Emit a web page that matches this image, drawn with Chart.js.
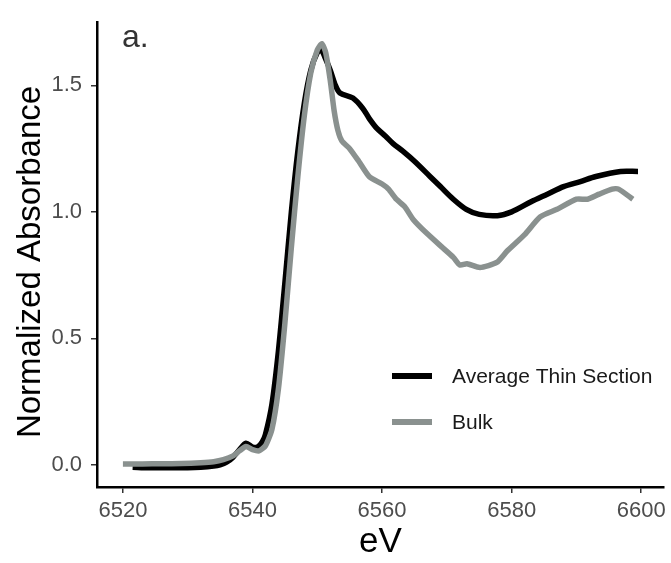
<!DOCTYPE html>
<html>
<head>
<meta charset="utf-8">
<script src="https://cdn.jsdelivr.net/npm/chart.js@4/dist/chart.umd.min.js"></script>
<style>
  html, body { margin: 0; padding: 0; background: #fff; }
  #wrap { width: 671px; height: 563px; position: relative; }
</style>
</head>
<body>
<div id="wrap"><canvas id="xanes"></canvas></div>
<script>
// series names
const seriesNames = ['Average Thin Section', 'Bulk'];

// Average Thin Section
const thinEnergy = [6521.5, 6524, 6527, 6530, 6532, 6534, 6535, 6536, 6537, 6538, 6539, 6540, 6540.8, 6541.5, 6542,
  6543, 6544, 6545, 6546, 6547, 6548, 6549, 6550, 6550.6, 6551.2, 6552, 6552.8, 6553.5, 6555.5, 6557, 6558,
  6559.2, 6560.5, 6561.7, 6563.2, 6565, 6567.4, 6569, 6571, 6573, 6575, 6577.8, 6580, 6583, 6585.5, 6588,
  6590.6, 6593, 6596.8, 6599.5];
const thinAbs = [-0.01, -0.012, -0.012, -0.012, -0.01, -0.005, 0.0, 0.01, 0.03, 0.06, 0.085, 0.07, 0.07, 0.09, 0.12,
  0.24, 0.45, 0.72, 1.0, 1.24, 1.43, 1.56, 1.63, 1.64, 1.61, 1.56, 1.5, 1.47, 1.45, 1.41, 1.37,
  1.33, 1.30, 1.27, 1.24, 1.2, 1.14, 1.10, 1.05, 1.01, 0.99, 0.985, 1.0, 1.04, 1.07, 1.10,
  1.12, 1.14, 1.16, 1.16];

// Bulk
const bulkEnergy = [6520, 6523, 6526, 6529, 6532, 6534, 6535.5, 6537, 6538, 6539, 6540, 6541, 6542, 6543, 6544,
  6545, 6546, 6547, 6548, 6549, 6550, 6550.7, 6551.3, 6552, 6552.6, 6553.2, 6553.8, 6555, 6556.4, 6558,
  6560, 6561, 6562.2, 6563.5, 6564.8, 6566.9, 6569.4, 6571, 6572, 6573.1, 6575.1, 6577.7, 6579.3, 6582,
  6584.4, 6587, 6590, 6591.7, 6593.5, 6595.5, 6596.5, 6598.7];
const bulkAbs = [0.003, 0.003, 0.004, 0.005, 0.008, 0.012, 0.02, 0.035, 0.055, 0.072, 0.06, 0.055, 0.075, 0.14, 0.3,
  0.56, 0.86, 1.14, 1.38, 1.55, 1.64, 1.665, 1.63, 1.52, 1.40, 1.32, 1.28, 1.25, 1.20, 1.14,
  1.11, 1.09, 1.05, 1.02, 0.97, 0.915, 0.857, 0.82, 0.79, 0.795, 0.78, 0.80, 0.845, 0.91,
  0.98, 1.01, 1.05, 1.05, 1.07, 1.09, 1.09, 1.05];

const xTicks = [6520, 6540, 6560, 6580, 6600];
const yTicks = [0.0, 0.5, 1.0, 1.5];
const panelLabel = 'a.';
const yTitle = 'Normalized Absorbance';

const FONT = '"Liberation Sans", Arial, Helvetica, sans-serif';
const lineColors = ['#000000', '#8a918f'];

function toPoints(xs, ys) {
  return xs.map((x, i) => ({ x: x, y: ys[i] }));
}

// legend inside the plot, panel letter, y title
const insideDecor = {
  id: 'insideDecor',
  afterDraw(chart) {
    const c = chart.ctx;
    c.save();
    c.font = '32px ' + FONT;
    c.fillStyle = '#333333';
    c.textBaseline = 'alphabetic';
    c.textAlign = 'left';
    c.fillText(panelLabel, 122, 47);

    // y title, a bit below the panel centre like the original
    c.save();
    c.translate(31, 262);
    c.rotate(-Math.PI / 2);
    c.font = '33px ' + FONT;
    c.fillStyle = '#000000';
    c.textAlign = 'center';
    c.textBaseline = 'middle';
    c.fillText(yTitle, 0, 0);
    c.restore();

    const ys = [376, 422];
    chart.data.datasets.forEach((ds, i) => {
      c.strokeStyle = ds.borderColor;
      c.lineWidth = 6;
      c.beginPath();
      c.moveTo(392, ys[i]);
      c.lineTo(432, ys[i]);
      c.stroke();
      c.font = '21px ' + FONT;
      c.fillStyle = '#1a1a1a';
      c.textAlign = 'left';
      c.textBaseline = 'middle';
      c.fillText(ds.label, 452, ys[i] + 1);
    });
    c.restore();
  }
};

const chart = new Chart(document.getElementById('xanes'), {
  type: 'line',
  data: {
    datasets: [
      {
        label: seriesNames[0],
        data: toPoints(thinEnergy, thinAbs),
        borderColor: lineColors[0],
        borderWidth: 5.5,
        pointRadius: 0,
        tension: 0.3,
        fill: false,
        order: 1
      },
      {
        label: seriesNames[1],
        data: toPoints(bulkEnergy, bulkAbs),
        borderColor: lineColors[1],
        borderWidth: 5.5,
        pointRadius: 0,
        tension: 0.2,
        fill: false,
        order: 0
      }
    ]
  },
  options: {
    responsive: true,
    maintainAspectRatio: false,
    animation: false,
    layout: { padding: { top: 7, right: 7, left: 0, bottom: 0 } },
    plugins: {
      legend: { display: false },
      tooltip: { enabled: false }
    },
    scales: {
      x: {
        type: 'linear',
        min: 6516,
        max: 6603.5,
        afterFit: s => { s.height = 76; },
        afterBuildTicks: s => { s.ticks = xTicks.map(v => ({ value: v })); },
        grid: { drawOnChartArea: false, drawTicks: true, tickLength: 6, color: '#333333', lineWidth: 1.5 },
        border: { display: true, color: '#000000', width: 2.5 },
        ticks: {
          color: '#4d4d4d',
          font: { family: FONT, size: 22 },
          padding: 5,
          maxRotation: 0,
          callback: v => String(v)
        },
        title: {
          display: true,
          text: 'eV',
          color: '#000000',
          font: { family: FONT, size: 35 },
          padding: { top: 0, bottom: 0 }
        }
      },
      y: {
        type: 'linear',
        min: -0.088,
        max: 1.75,
        afterFit: s => { s.width = 97; },
        afterBuildTicks: s => { s.ticks = yTicks.map(v => ({ value: v })); },
        grid: { drawOnChartArea: false, drawTicks: true, tickLength: 6, color: '#333333', lineWidth: 1.5 },
        border: { display: true, color: '#000000', width: 2.5 },
        ticks: {
          color: '#4d4d4d',
          font: { family: FONT, size: 22 },
          padding: 9,
          callback: v => v.toFixed(1)
        },
        title: { display: false }
      }
    }
  },
  plugins: [insideDecor]
});
</script>
</body>
</html>
